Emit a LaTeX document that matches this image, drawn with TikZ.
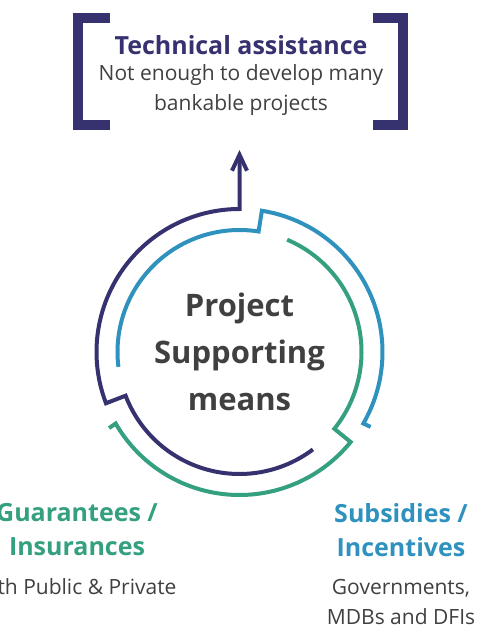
\documentclass[tikz,border=0pt]{standalone}
\usepackage{fontspec}
\setmainfont{Open Sans}
\usepackage{tikz}
\usetikzlibrary{positioning}
\usetikzlibrary{arrows.meta}

\definecolor{navy}{RGB}{54,50,112}
\definecolor{sky}{RGB}{47,146,190}
\definecolor{grn}{RGB}{52,160,128}
\definecolor{ink}{RGB}{64,64,64}

\begin{document}
\begin{tikzpicture}[x=1pt,y=1pt,
	ring/.style={line width=4pt, line join=miter},
	brace/.style={navy, line width=10pt, line join=miter},
	heading/.style={font=\bfseries\fontsize{25}{34}\selectfont, align=center},
	note/.style={text=ink, font=\fontsize{21}{30}\selectfont, align=center}]
	
	\useasboundingbox (0,0) rectangle (481,630);
	
	% centre of the cycle, inner and outer radius
	\coordinate (C) at (239.5,278);
	\def\rin{122}
	\def\rout{143}
	
	% the box on top
	\node[heading, text=navy] (title) at (241,585) {Technical assistance};
	\node[note] (titlenote) at (241,540) {Not enough to develop many\\bankable projects};
	
	\draw[brace] (110,612) -- (78,612) -- (78,505) -- (110,505);
	\draw[brace] (373,612) -- (403,612) -- (403,505) -- (373,505);
	
	% where the arrow ends
	\coordinate (tip) at (239.5,480);
	
	% centre text
	\node[text=ink, align=center, font=\bfseries\fontsize{31}{47}\selectfont] (hub) at (C) {Project\\Supporting\\means};
	
	%%%%%%%%%%%%%%%%%%%%%%%%%%%%%%%%%%%%%%%%%%%%%%%%%%%%%%%%%%%%%%
	% three stepped arcs, 120 degrees apart
	
	\draw[ring, navy, -{Straight Barb[length=16pt,width=15pt]}]
		([shift={(307:\rin)}]C) arc[start angle=307, end angle=201, radius=\rin]
		-- ([shift={(201:\rout)}]C) arc[start angle=201, end angle=90, radius=\rout]
		-- (tip);
	
	\draw[ring, sky]
		([shift={(187:\rin)}]C) arc[start angle=187, end angle=81, radius=\rin]
		-- ([shift={(81:\rout)}]C) arc[start angle=81, end angle=-30, radius=\rout]
		-- ++(335:8);
	
	\draw[ring, grn]
		([shift={(67:\rin)}]C) arc[start angle=67, end angle=-39, radius=\rin]
		-- ([shift={(-39:\rout)}]C) arc[start angle=-39, end angle=-150, radius=\rout]
		-- ++(215:8);
	
	%%%%%%%%%%%%%%%%%%%%%%%%%%%%%%%%%%%%%%%%%%%%%%%%%%%%%%%%%%%%%%
	% labels below
	
	\node[heading, text=grn] (guar) at (77,100) {Guarantees /\\Insurances};
	\node[note, anchor=east] (guarnote) at (180,43) {th Public \& Private};
	
	\node[heading, text=sky] (subs) at (401,100) {Subsidies /\\Incentives};
	\node[note] (subsnote) at (401,28) {Governments,\\MDBs and DFIs};
	
\end{tikzpicture}
\end{document}
